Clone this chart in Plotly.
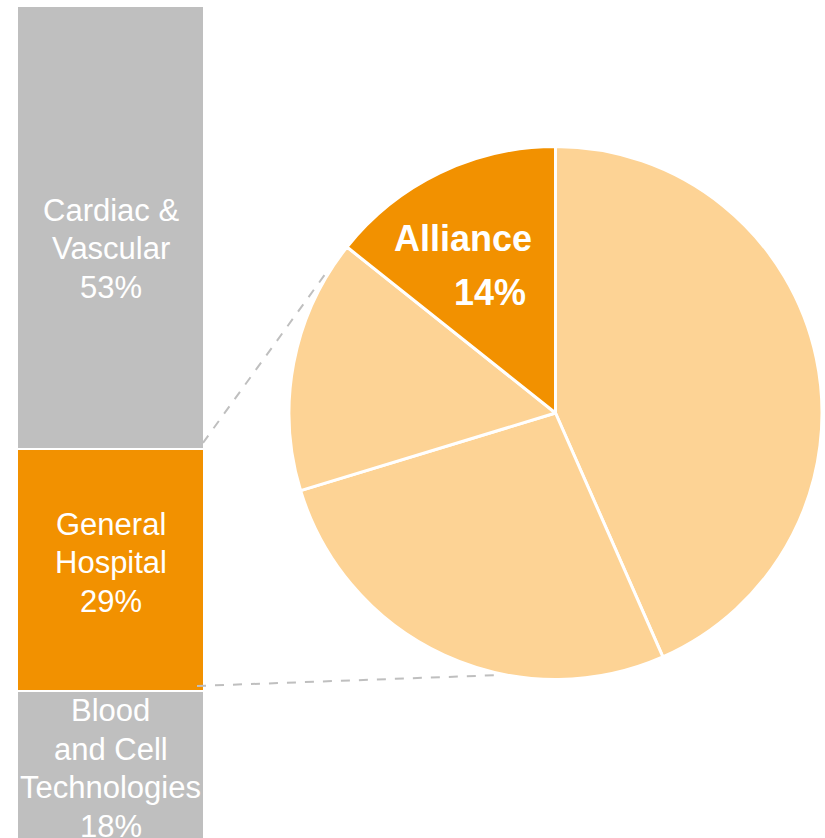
import math
import plotly.graph_objects as go

# ---------------- data ----------------
bar_labels = ["Blood<br>and Cell<br>Technologies", "General<br>Hospital", "Cardiac &<br>Vascular"]
bar_shares = [18, 29, 53]

pie_labels = ["Other A", "Other B", "Other C", "Alliance"]
pie_values = [43.4, 26.9, 15.4, 14.3]

# ---------------- style ----------------
W, H = 825, 838
OFF = 0  # body margin removed by post_script
GRAY = "#BFBFBF"
ORANGE = "#F29100"
LIGHT = "#FDD395"
FONT = "Liberation Sans, Arial, sans-serif"

bar_colors = [GRAY, ORANGE, GRAY]
label_yshift = [-2.5, 7, -21]
LINE_H = 38.5
highlight = 1  # index of the bar segment exploded into the pie

# bar geometry (page pixels)
bar_left, bar_right = 17, 204
PX_PER_UNIT = 8.35
PX_ZERO = 841.3  # page pixel of value 0

# pie geometry (page pixels)
pie_left, pie_right, pie_top, pie_bottom = 289, 822, 146, 680


def px_x(p):
    return (p - OFF) / W


def px_y(p):
    return 1 - (p - OFF) / H


y_range = [(PX_ZERO - OFF - H) / PX_PER_UNIT, (PX_ZERO - OFF) / PX_PER_UNIT]


def y_to_px(v):
    return OFF + H * (1 - (v - y_range[0]) / (y_range[1] - y_range[0]))


fig = go.Figure()

for lab, val, col in zip(bar_labels, bar_shares, bar_colors):
    fig.add_trace(go.Bar(
        x=[0], y=[val], width=1,
        marker=dict(color=col, line=dict(color="white", width=2)),
        hoverinfo="skip", showlegend=False,
        xaxis="x", yaxis="y",
    ))

pie_colors = [LIGHT] * (len(pie_values) - 1) + [ORANGE]
fig.add_trace(go.Pie(
    labels=pie_labels, values=pie_values, sort=False,
    direction="clockwise", rotation=0,
    marker=dict(colors=pie_colors, line=dict(color="white", width=3)),
    textinfo="none", hoverinfo="skip", showlegend=False,
    domain=dict(x=[px_x(pie_left), px_x(pie_right)], y=[px_y(pie_bottom), px_y(pie_top)]),
))

annotations = []
cum = 0
cum_edges = []
for lab, val, ys in zip(bar_labels, bar_shares, label_yshift):
    lines = lab.split("<br>") + [f"{val}%"]
    n = len(lines)
    for i, line in enumerate(lines):
        annotations.append(dict(
            x=0, y=cum + val / 2, xref="x", yref="y",
            xanchor="center", yanchor="middle",
            yshift=ys - (i - (n - 1) / 2) * LINE_H,
            text=line, showarrow=False,
            font=dict(family=FONT, size=31, color="white"),
        ))
    cum_edges.append((cum, cum + val))
    cum += val

# pie helpers (page pixels)
cx = (pie_left + pie_right) / 2
cy = (pie_top + pie_bottom) / 2
r = min(pie_right - pie_left, pie_bottom - pie_top) / 2
total = sum(pie_values)


def pie_point(frac_angle, rr):
    a = 2 * math.pi * frac_angle
    return cx + rr * math.sin(a), cy - rr * math.cos(a)


# Alliance labels
share = pie_values[-1] / total * 100
annotations.append(dict(
    x=px_x(463.5), y=px_y(239), xref="paper", yref="paper", showarrow=False,
    xanchor="center", yanchor="middle",
    text="<b>Alliance</b>", font=dict(family=FONT, size=36, color="white"),
))
annotations.append(dict(
    x=px_x(489.5), y=px_y(292), xref="paper", yref="paper", showarrow=False,
    xanchor="center", yanchor="middle",
    text=f"<b>{round(share)}%</b>", font=dict(family=FONT, size=36, color="white"),
))

# connectors from highlighted bar segment to the pie
lo, hi = cum_edges[highlight]
tx, ty = pie_point(302.4 / 360, r + 2)
bx, by = pie_point(192.5 / 360, r + 2)
shapes = [
    dict(type="line", xref="paper", yref="paper",
         x0=px_x(bar_right - 1), y0=px_y(y_to_px(hi) - 6), x1=px_x(tx), y1=px_y(ty),
         line=dict(color=GRAY, width=2, dash="dash")),
    dict(type="line", xref="paper", yref="paper",
         x0=px_x(bar_right - 7), y0=px_y(y_to_px(lo) - 5), x1=px_x(bx), y1=px_y(by),
         line=dict(color=GRAY, width=2, dash="dash")),
]

fig.update_layout(
    width=W, height=H,
    margin=dict(l=0, r=0, t=0, b=0),
    paper_bgcolor="white", plot_bgcolor="white",
    barmode="stack",
    xaxis=dict(domain=[px_x(bar_left), px_x(bar_right)], range=[-0.5, 0.5], visible=False, fixedrange=True),
    yaxis=dict(domain=[0, 1], range=y_range, visible=False, fixedrange=True),
    annotations=annotations,
    shapes=shapes,
    font=dict(family=FONT),
)

fig.write_html(
    "out.html",
    config={"displayModeBar": False},
    post_script="document.body.style.margin='0';document.body.style.overflow='hidden';",
)
